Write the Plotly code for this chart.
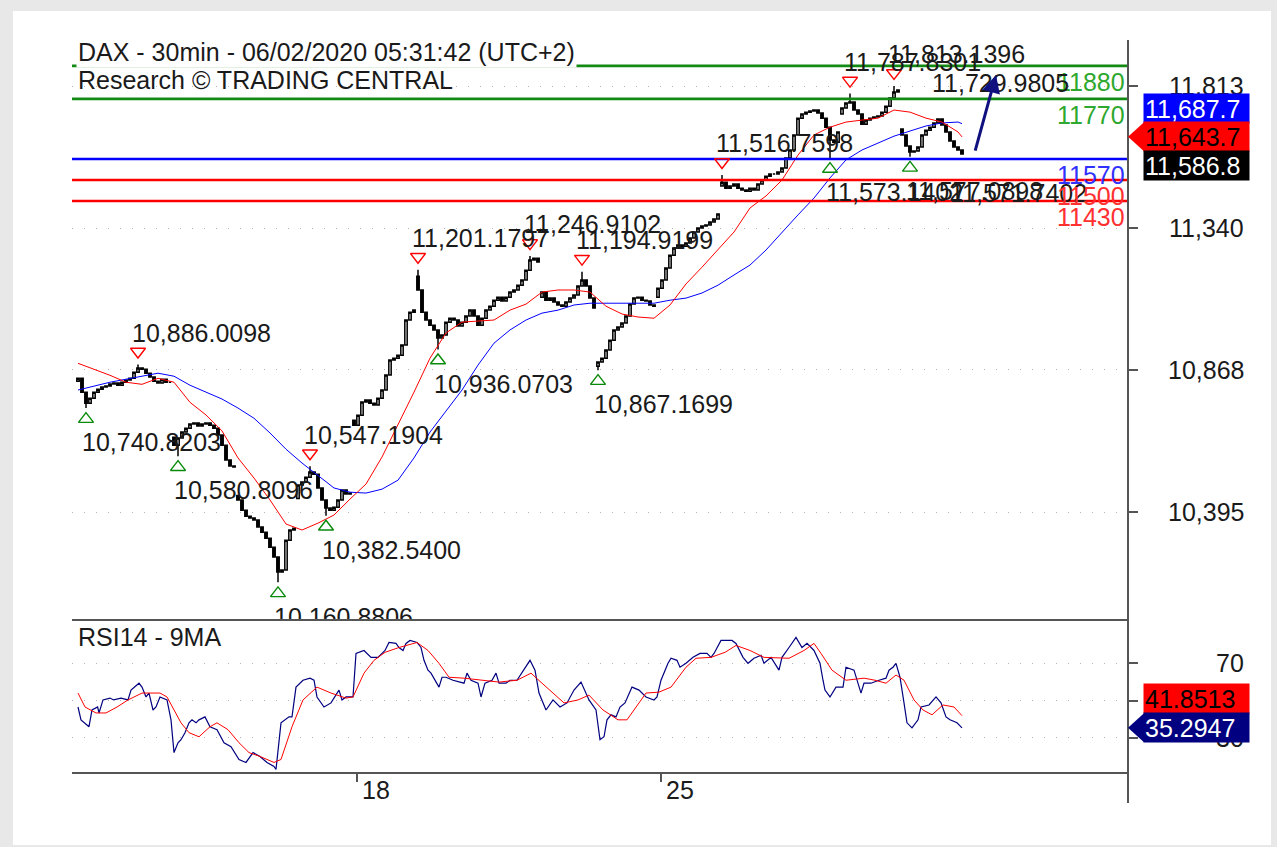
import plotly.graph_objects as go

# ---------------- DATA ----------------
# 30-minute closes, bar index 0..221
closes = [
    10840, 10794, 10757, 10774, 10794, 10804, 10811, 10814, 10821, 10824, 10817, 10827, 10834, 10840, 10860, 10874,
    10870, 10857, 10844, 10830, 10824, 10837, 10827, 10827,
    10617, 10641, 10661, 10674, 10688, 10691, 10681, 10688, 10691, 10684, 10674, 10651, 10617, 10568, 10548, 10545,
    10435, 10401, 10381, 10375, 10368, 10345, 10328, 10308, 10278, 10245, 10195, 10202, 10301, 10335, 10341,
    10485, 10495, 10511, 10528, 10521, 10475, 10435, 10408, 10401, 10411, 10435, 10468, 10455, 10458,
    10684, 10717, 10761, 10768, 10757, 10751, 10774, 10801, 10851, 10901, 10907, 10917, 10951, 11034, 11060, 11067,
    11134, 11060, 11034, 11017, 11001, 10974, 10984, 11027, 11040, 11034, 11014, 11027, 11047, 11067, 11047, 11017,
    11040, 11067, 11080, 11100, 11110, 11097, 11110, 11127, 11134, 11150, 11167, 11200, 11234, 11240, 11227,
    11127, 11100, 11107, 11094, 11084, 11080, 11094, 11107, 11117, 11147, 11167, 11147, 11107, 11074,
    10894, 10907, 10934, 10967, 11001, 11011, 11024, 11047, 11087, 11107, 11110, 11100, 11097, 11084, 11080,
    11140, 11167, 11207, 11250, 11274, 11284, 11280, 11290, 11307, 11327, 11340, 11347, 11350, 11360, 11370, 11387,
    11493, 11473, 11480, 11487, 11473, 11467, 11463, 11473, 11467, 11487, 11500, 11513, 11520, 11520, 11527,
    11540, 11573, 11600, 11650, 11706, 11720, 11726, 11730, 11733, 11723, 11706, 11676, 11633, 11626, 11660,
    11740, 11756, 11760, 11733, 11720, 11686, 11700, 11706, 11710, 11713, 11726, 11746, 11773, 11793, 11800,
    11650, 11613, 11593, 11597, 11610, 11650, 11666, 11676, 11690, 11703, 11683, 11660, 11630, 11610, 11600, 11586.8,
]
first_open = 10830
# session opens that gap away from the previous close
gap_bars = [24, 40, 55, 69, 85, 116, 130, 145, 161, 191, 206]
gap_opens = [10644, 10450, 10440, 10700, 11180, 11110, 10880, 11110, 11480, 11720, 11670]

# swing highs / lows marked on the chart
ext_bars = [2, 15, 25, 50, 58, 62, 85, 90, 113, 126, 130, 161, 188, 193, 204, 208]
ext_vals = [10740.8203, 10886.0098, 10580.8096, 10160.8806, 10547.1904, 10382.5400, 11201.1797,
            10936.0703, 11246.9102, 11194.9199, 10867.1699, 11516.7598, 11573.1402, 11787.8301,
            11813.1396, 11577.0898]
ext_kind = ['L', 'H', 'L', 'L', 'H', 'L', 'H', 'L', 'H', 'H', 'L', 'H', 'L', 'H', 'H', 'L']
# pending (unconfirmed) low label without a marker
pending_low = (219, 11571.7402)

# moving averages (read every 4 bars)
ma_bars = list(range(0, 221, 4)) + [221]
ma_red = [10890, 10870, 10850, 10827, 10820, 10840, 10827, 10760, 10718, 10665, 10575, 10508, 10435, 10355,
          10335, 10358, 10385, 10438, 10488, 10578, 10684, 10794, 10907, 10991, 11027, 11030, 11034, 11067,
          11087, 11127, 11134, 11134, 11127, 11080, 11054, 11044, 11040, 11084, 11154, 11210, 11267, 11327,
          11407, 11447, 11500, 11583, 11650, 11676, 11693, 11700, 11706, 11733, 11726, 11706, 11693, 11660,
          11643.7]
ma_blue = [10801, 10814, 10827, 10837, 10847, 10857, 10847, 10817, 10794, 10771, 10741, 10707, 10658, 10604,
           10558, 10515, 10475, 10461, 10458, 10471, 10501, 10575, 10661, 10731, 10801, 10884, 10957, 11001,
           11034, 11057, 11067, 11084, 11090, 11090, 11090, 11090, 11090, 11100, 11107, 11124, 11150, 11184,
           11217, 11267, 11327, 11384, 11440, 11507, 11567, 11600, 11623, 11646, 11663, 11680, 11690, 11693,
           11687.7]

# horizontal levels
level_vals = [11880, 11770, 11570, 11500, 11430]
level_line_colors = ['#138a13', '#138a13', '#0000ff', '#ff0000', '#ff0000']
level_text_colors = ['#2ea82e', '#2ea82e', '#3030ff', '#ff3030', '#ff3030']

# forecast arrow (bar, price)
arrow_from = (224.2, 11593)
arrow_to = (229.5, 11850)
target_label = (213, 11823, "11,729.9805")

# RSI(14) and its 9-period MA
rsi_bars = [0, 0.75, 2.75, 3.5, 4.9, 5.25, 6.25, 8, 8.9, 10.75, 12.5, 13.25, 15.25, 16, 17, 17.75, 18.75, 19.5,
            20.5, 22.25, 23.25, 24, 25, 25.75, 26.75, 27.75, 28.5, 29.5, 30.25, 31.75, 33, 34.75, 36.5, 38.25,
            40.25, 42, 43.75, 45.5, 47.25, 49, 49.5, 50.75, 52.75, 53.5, 54.5, 56.25, 58, 59, 59.75, 61.5, 63.25,
            64.25, 65.25, 66, 67, 68.75, 69.5, 71.5, 73.25, 75, 76.75, 77.75, 79.5, 80.25, 81.25, 82, 83, 84.75,
            85.75, 86.5, 87.5, 88.25, 90.25, 91, 92, 93.75, 95.5, 96.5, 97.25, 98.25, 100, 100.75, 101.75, 103.5,
            104.5, 105.25, 107, 108, 109.75, 111.5, 113, 114.25, 115.25, 117, 118.75, 120.5, 122.25, 124, 125.75,
            127.75, 129.5, 130.5, 131.5, 132.25, 133.25, 134.5, 135.5, 136.75, 138.5, 140.25, 142, 144, 144.75,
            145.75, 147.5, 148.25, 149.75, 150.5, 152, 153.75, 155.5, 157.25, 158.25, 159, 160.75, 163.5, 164.5,
            166.25, 167.5, 169, 170.75, 171.5, 173.25, 175.25, 176, 177.75, 179.5, 181, 182.25, 184, 185.5,
            186.25, 186.75, 188, 189.5, 191.25, 192, 194, 194.75, 195.75, 196.5, 198.25, 200.25, 202, 202.75,
            203.75, 204.5, 205.5, 206.5, 207.25, 208.5, 210, 210.75, 212.75, 214.5, 215.75, 217, 218, 219.75,
            221]
rsi_vals = [46.5, 39.6, 35.9, 44.9, 46.5, 43.3, 50.3, 51.3, 50.3, 51.3, 50.3, 55.6, 59.3, 57.2, 51.9, 54.0, 44.9,
            46.5, 51.9, 50.3, 39.6, 22.0, 27.3, 28.9, 32.7, 38.0, 39.6, 38.0, 39.6, 41.2, 35.9, 34.3, 27.3, 25.2,
            18.3, 16.7, 22.0, 19.9, 16.7, 14.5, 12.9, 38.0, 41.2, 41.2, 57.2, 60.9, 62.0, 60.9, 51.9, 46.5, 48.7,
            51.9, 55.6, 50.3, 51.9, 51.9, 75.3, 76.9, 73.2, 73.2, 76.9, 81.2, 80.7, 78.5, 76.9, 80.7, 82.3, 81.2,
            78.5, 71.6, 66.3, 64.7, 57.2, 62.5, 62.5, 60.9, 59.9, 59.3, 64.7, 60.9, 59.3, 51.9, 59.3, 60.9, 64.7,
            59.3, 59.3, 60.9, 60.9, 66.3, 71.6, 66.3, 54.0, 44.9, 50.3, 46.5, 48.7, 55.6, 59.9, 50.3, 44.9, 28.9,
            30.5, 39.6, 42.3, 41.2, 46.5, 48.7, 57.2, 55.6, 51.9, 50.3, 51.9, 60.9, 70.0, 72.7, 71.6, 67.9, 70.0,
            73.2, 75.3, 75.3, 73.2, 75.3, 82.3, 82.3, 80.7, 73.2, 70.0, 72.7, 74.3, 70.0, 73.2, 66.3, 73.2, 78.5,
            83.9, 78.5, 80.7, 76.9, 70.0, 60.9, 55.6, 51.9, 57.2, 57.2, 67.9, 66.3, 60.9, 54.0, 59.3, 59.3, 60.9,
            62.0, 66.3, 67.9, 70.0, 62.5, 48.7, 38.0, 35.3, 39.6, 46.5, 47.6, 51.9, 48.7, 41.2, 39.6, 38.0,
            35.2947]
rsima_bars = [0, 1.75, 4.5, 7, 9.75, 12.5, 16, 20.5, 22.25, 24, 25.75, 27.75, 30.25, 33, 34.75, 37.5, 40.25,
              42.75, 45.5, 49, 50.75, 53.5, 56.25, 59.75, 63.25, 67, 68.75, 71.5, 74, 76.75, 80.25, 84.75, 87.5,
              90.25, 92.75, 96.5, 100.75, 105.25, 109.75, 113.25, 116, 118.75, 121.5, 125, 127.75, 131.25, 135,
              137.25, 139.5, 142, 145.25, 148.25, 152, 154.5, 158.25, 161.75, 164.5, 168, 171.5, 175.25, 177.75,
              181.5, 184, 185.75, 188.5, 192, 196.5, 199.25, 202, 204.5, 206.5, 209, 211.25, 213.5, 216.25, 219,
              221]
rsima_vals = [54.0, 46.5, 43.3, 43.3, 46.5, 50.3, 54.0, 54.0, 51.9, 44.9, 38.0, 32.7, 30.5, 35.9, 38.0, 34.3,
              27.3, 22.0, 19.9, 16.7, 18.3, 35.9, 50.3, 57.2, 54.0, 51.3, 51.9, 64.7, 71.6, 75.9, 78.5, 81.2, 76.9,
              70.0, 62.5, 62.0, 60.9, 59.9, 60.9, 64.7, 59.3, 54.0, 48.7, 50.3, 52.9, 44.9, 39.6, 39.6, 46.5, 54.0,
              54.5, 57.2, 67.9, 72.7, 73.2, 75.9, 79.6, 76.9, 73.2, 72.7, 72.7, 76.9, 80.7, 75.3, 66.3, 60.9, 62.0,
              60.9, 59.3, 63.7, 60.9, 50.3, 44.9, 42.3, 47.6, 46.5, 41.8513]

price_ticks = [10395, 10868, 11340, 11813]
rsi_ticks = [30, 50, 70]
week_ticks = [69.75, 145.75]
week_labels = ["18", "25"]

# ---------------- BUILD ----------------
FONT = "Arial, Liberation Sans, sans-serif"
TXT = "#1a1a1a"
n = len(closes)
idx = list(range(n))
opens = [first_open] + closes[:-1]
for b, o in zip(gap_bars, gap_opens):
    opens[b] = o
highs = [max(o, c) for o, c in zip(opens, closes)]
lows = [min(o, c) for o, c in zip(opens, closes)]
for b, v, k in zip(ext_bars, ext_vals, ext_kind):
    if k == 'H':
        highs[b] = v
    else:
        lows[b] = v

W, H = 1277, 847
L, R, T, B = 72, 1128, 40, 773          # plot area in px
split = 620                              # px boundary price / rsi
ph = B - T
dom_split = (B - split) / ph
PY = (11813 - 10395) / (512 - 86)        # price per pixel
y_range = [10395 - (split - 512) * PY, 11813 + (86 - T) * PY]
RS = (737.7 - 663.3) / 40.0              # px per rsi unit
r_range = [30 - (B - 737.7) / RS, 70 + (663.3 - split) / RS]
x_range = [-1.5, 262.5]


def px_x(px):
    return (px - L) / (R - L)


def px_y(py):
    return (B - py) / ph


fig = go.Figure()

# price candles
fig.add_trace(go.Candlestick(
    x=idx, open=opens, high=highs, low=lows, close=closes,
    increasing=dict(line=dict(color='black', width=1.5), fillcolor='white'),
    decreasing=dict(line=dict(color='black', width=1.5), fillcolor='black'),
    whiskerwidth=0, showlegend=False, hoverinfo='skip', xaxis='x', yaxis='y'))

# moving averages
fig.add_trace(go.Scatter(x=ma_bars, y=ma_blue, mode='lines', line=dict(color='#0000ff', width=1),
                         showlegend=False, hoverinfo='skip'))
fig.add_trace(go.Scatter(x=ma_bars, y=ma_red, mode='lines', line=dict(color='#ff0000', width=1),
                         showlegend=False, hoverinfo='skip'))

# level lines
for v, c in zip(level_vals, level_line_colors):
    fig.add_trace(go.Scatter(x=x_range, y=[v, v], mode='lines', line=dict(color=c, width=2.6),
                             showlegend=False, hoverinfo='skip'))

# swing markers and labels
hb = [b for b, k in zip(ext_bars, ext_kind) if k == 'H']
hv = [v for v, k in zip(ext_vals, ext_kind) if k == 'H']
lb = [b for b, k in zip(ext_bars, ext_kind) if k == 'L']
lv = [v for v, k in zip(ext_vals, ext_kind) if k == 'L']
fig.add_trace(go.Scatter(x=hb, y=[v + 13 * PY for v in hv], mode='markers',
                         marker=dict(symbol='triangle-down-open', size=13, color='#ff0000',
                                     line=dict(width=1.4, color='#ff0000')),
                         showlegend=False, hoverinfo='skip'))
fig.add_trace(go.Scatter(x=lb, y=[v - 11 * PY for v in lv], mode='markers',
                         marker=dict(symbol='triangle-up-open', size=13, color='#0a8a0a',
                                     line=dict(width=1.4, color='#0a8a0a')),
                         showlegend=False, hoverinfo='skip'))
fig.add_trace(go.Scatter(x=[b - 1.5 for b in hb], y=[v + 29 * PY for v in hv], mode='text',
                         text=[f"{v:,.4f}" for v in hv], textposition='middle right',
                         textfont=dict(family=FONT, size=25, color=TXT),
                         showlegend=False, hoverinfo='skip'))
lb_all = lb + [pending_low[0]]
lv_all = lv + [pending_low[1]]
fig.add_trace(go.Scatter(x=[b - 1.0 for b in lb_all], y=[v - 37 * PY for v in lv_all], mode='text',
                         text=[f"{v:,.4f}" for v in lv_all], textposition='middle right',
                         textfont=dict(family=FONT, size=25, color=TXT),
                         showlegend=False, hoverinfo='skip'))

# RSI
fig.add_trace(go.Scatter(x=rsi_bars, y=rsi_vals, mode='lines', line=dict(color='#000080', width=1.2),
                         xaxis='x', yaxis='y2', showlegend=False, hoverinfo='skip'))
fig.add_trace(go.Scatter(x=rsima_bars, y=rsima_vals, mode='lines', line=dict(color='#ff0000', width=1),
                         xaxis='x', yaxis='y2', showlegend=False, hoverinfo='skip'))

shapes = []
# white canvas
shapes.append(dict(type='rect', xref='paper', yref='paper', x0=px_x(13), x1=px_x(1271), y0=px_y(845),
                   y1=px_y(11), fillcolor='white', line=dict(width=0), layer='below'))
# frame lines
shapes.append(dict(type='line', xref='paper', yref='paper', x0=1, x1=1, y0=px_y(803), y1=px_y(T),
                   line=dict(color='#555555', width=2)))
shapes.append(dict(type='line', xref='paper', yref='paper', x0=0, x1=1, y0=dom_split, y1=dom_split,
                   line=dict(color='#555555', width=2)))
shapes.append(dict(type='line', xref='paper', yref='paper', x0=0, x1=1, y0=0, y1=0,
                   line=dict(color='#555555', width=2)))

# value boxes (right side)
box_h_p = 28.5 * PY
last_red = ma_red[-1]
price_boxes = [
    (last_red + box_h_p, f"{ma_blue[-1]:,.1f}", '#0000ff', 'white', False),
    (last_red, f"{ma_red[-1]:,.1f}", '#ff0000', 'black', True),
    (last_red - box_h_p, f"{closes[-1]:,.1f}", '#000000', 'white', False),
]
rsi_box_h = 29.5 / RS
rsi_boxes = [
    (rsi_vals[-1] + rsi_box_h, f"{rsima_vals[-1]:.4f}", '#ff0000', 'black', False),
    (rsi_vals[-1], f"{rsi_vals[-1]:.4f}", '#000080', 'white', True),
]
annotations = []

# right axis tick labels
for v in price_ticks:
    annotations.append(dict(x=px_x(1246), xref='paper', y=v, yref='y', text=f"{v:,}", showarrow=False,
                            xanchor='right', yanchor='middle', font=dict(family=FONT, size=25, color=TXT)))
for v in [70, 30]:
    annotations.append(dict(x=px_x(1246), xref='paper', y=v, yref='y2', text=f"{v}", showarrow=False,
                            xanchor='right', yanchor='middle', font=dict(family=FONT, size=25, color=TXT)))


def add_boxes(boxes, yref, half):
    for yc, txt, bg, fg, arrow in boxes:
        annotations.append(dict(x=px_x(1143), xref='paper', y=yc, yref=yref, text=txt, showarrow=False,
                                xanchor='left', yanchor='middle', align='left', width=103, height=27,
                                bgcolor=bg, borderpad=1, font=dict(family=FONT, size=25, color=fg)))
        if arrow:
            shapes.append(dict(type='path', xref='paper', yref=yref,
                               path=f"M {px_x(1128)},{yc} L {px_x(1144)},{yc + half} L {px_x(1144)},{yc - half} Z",
                               fillcolor=bg, line=dict(width=0)))


add_boxes(price_boxes, 'y', 14.5 * PY)
add_boxes(rsi_boxes, 'y2', 14.5 / RS)

# level labels
for v, c in zip(level_vals, level_text_colors):
    annotations.append(dict(x=px_x(1127), xref='paper', y=v, yref='y', yshift=-16, text=str(v),
                            showarrow=False, xanchor='right', yanchor='middle',
                            font=dict(family=FONT, size=25, color=c)))

# target label + arrow
annotations.append(dict(x=target_label[0], y=target_label[1], xref='x', yref='y', text=target_label[2],
                        showarrow=False, xanchor='left', yanchor='middle',
                        font=dict(family=FONT, size=25, color=TXT)))
annotations.append(dict(x=arrow_to[0], y=arrow_to[1], xref='x', yref='y', ax=arrow_from[0], ay=arrow_from[1],
                        axref='x', ayref='y', text='', showarrow=True, arrowhead=2, arrowsize=1.2,
                        arrowwidth=3, arrowcolor='#10107e'))

# titles
annotations.append(dict(x=px_x(76), xref='paper', y=px_y(52), yref='paper',
                        text="DAX - 30min - 06/02/2020 05:31:42 (UTC+2)", showarrow=False,
                        xanchor='left', yanchor='middle', bgcolor='white', borderpad=1,
                        font=dict(family=FONT, size=25, color=TXT)))
annotations.append(dict(x=px_x(76), xref='paper', y=px_y(80), yref='paper',
                        text="Research © TRADING CENTRAL", showarrow=False,
                        xanchor='left', yanchor='middle', font=dict(family=FONT, size=25, color=TXT)))
annotations.append(dict(x=px_x(76), xref='paper', y=px_y(637), yref='paper', text="RSI14 - 9MA",
                        showarrow=False, xanchor='left', yanchor='middle',
                        font=dict(family=FONT, size=25, color=TXT)))

# week labels
for t, lab in zip(week_ticks, week_labels):
    annotations.append(dict(x=t, xref='x', y=px_y(790), yref='paper', text=lab, showarrow=False,
                            xanchor='left', xshift=3, yanchor='middle',
                            font=dict(family=FONT, size=25, color=TXT)))

grid = dict(showgrid=True, gridcolor='#b4b4b4', gridwidth=1, griddash='1px,11px')
fig.update_layout(
    width=W, height=H,
    margin=dict(l=L, r=W - R, t=T, b=H - B, pad=0),
    paper_bgcolor='#e8e8e8', plot_bgcolor='white',
    showlegend=False,
    boxgap=0.15,
    font=dict(family=FONT, size=25, color=TXT),
    xaxis=dict(range=x_range, anchor='y2', showline=False, zeroline=False, showgrid=False,
               tickmode='array', tickvals=week_ticks, ticktext=['', ''], ticks='outside', ticklen=8,
               tickwidth=1.5, tickcolor='#555555', showticklabels=False,
               rangeslider=dict(visible=False), fixedrange=True),
    yaxis=dict(domain=[dom_split, 1], range=y_range, side='right', anchor='x', zeroline=False,
               tickmode='array', tickvals=price_ticks, ticks='outside', ticklen=9, tickwidth=1.5,
               tickcolor='#555555', showticklabels=False, showline=False, fixedrange=True, **grid),
    yaxis2=dict(domain=[0, dom_split], range=r_range, side='right', anchor='x', zeroline=False,
                tickmode='array', tickvals=rsi_ticks, ticks='outside', ticklen=9, tickwidth=1.5,
                tickcolor='#555555', showticklabels=False, showline=False, fixedrange=True, **grid),
    shapes=shapes,
    annotations=annotations,
)

fig.write_html("out.html", config={'displayModeBar': False},
               post_script="document.body.style.margin='0px';document.body.style.overflow='hidden';")
